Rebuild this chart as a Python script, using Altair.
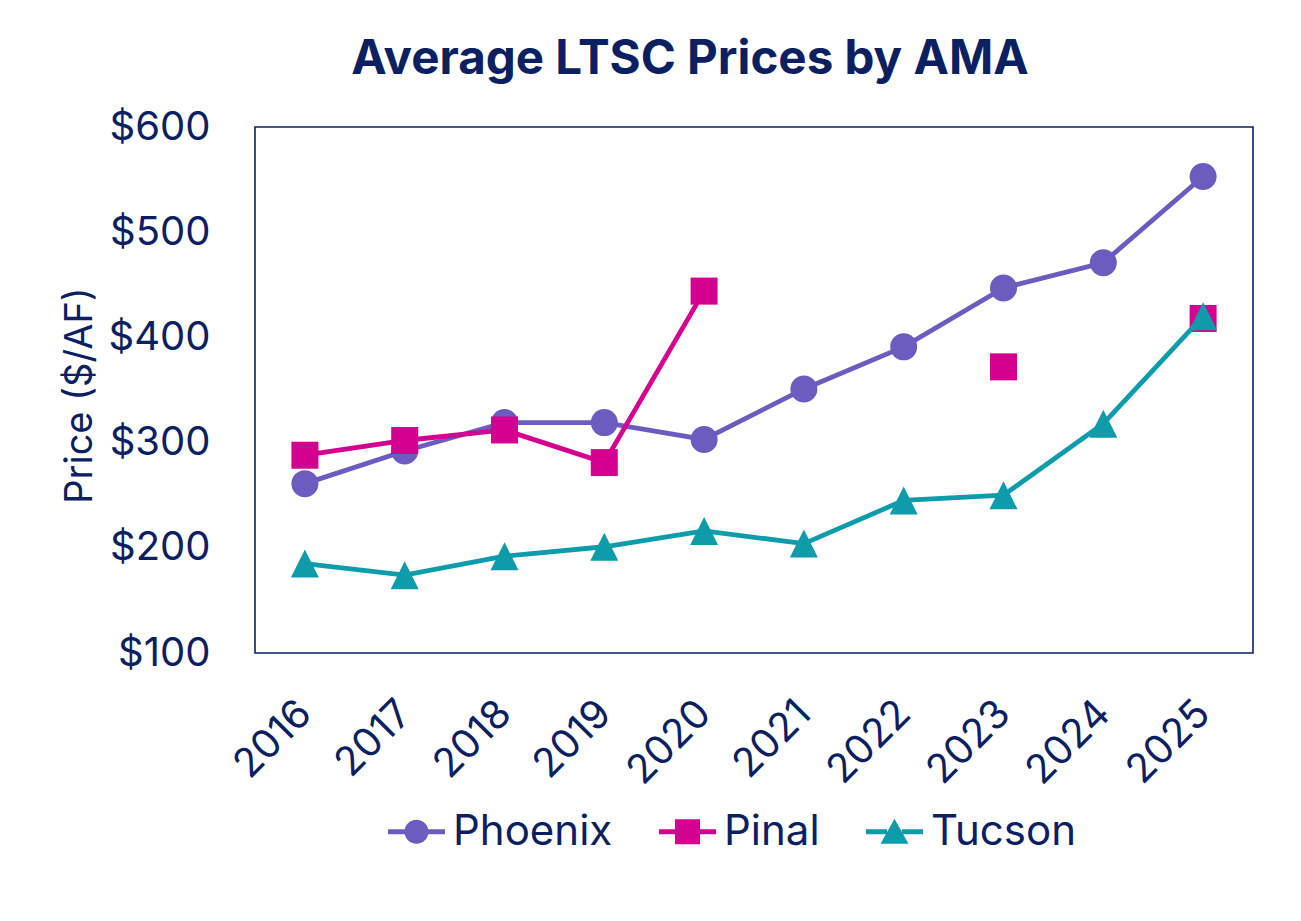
import altair as alt
import pandas as pd

years = ["2016", "2017", "2018", "2019", "2020", "2021", "2022", "2023", "2024", "2025"]
phoenix = [261, 292, 319, 319, 303, 351, 391, 447, 471, 553]
pinal = [288, 302, 312, 281, 444, None, None, 372, None, 418]
tucson = [185, 174, 192, 201, 216, 204, 245, 250, 318, 420]

series_names = ["Phoenix", "Pinal", "Tucson"]
series_values = [phoenix, pinal, tucson]
series_colors = ["#6C5CBF", "#D4008F", "#0E9BAA"]
series_shapes = ["circle", "square", "M0,-1L1,1L-1,1Z"]
series_sizes = [729, 729, 784]

# legend symbols: marker with a line through it
legend_paths = [
    "M-1,-0.088L-0.4,-0.088L-0.4,0.088L-1,0.088Z M0.4,-0.088L1,-0.088L1,0.088L0.4,0.088Z "
    "M-0.42,0A0.42,0.42 0 1,1 0.42,0A0.42,0.42 0 1,1 -0.42,0Z",
    "M-1,-0.088L-0.44,-0.088L-0.44,0.088L-1,0.088Z M0.44,-0.088L1,-0.088L1,0.088L0.44,0.088Z "
    "M-0.44,-0.44L0.44,-0.44L0.44,0.44L-0.44,0.44Z",
    "M-1,-0.088L-0.26,-0.088L-0.26,0.088L-1,0.088Z M0.26,-0.088L1,-0.088L1,0.088L0.26,0.088Z "
    "M0,-0.46L0.49,0.42L-0.49,0.42Z",
]

rows = []
for name, vals in zip(series_names, series_values):
    for yr, v in zip(years, vals):
        rows.append({"year": yr, "series": name, "price": v})
df = pd.DataFrame(rows)

NAVY = "#0A2060"
FONT = "Inter"

x_enc = alt.X(
    "year:O",
    scale=alt.Scale(type="point", padding=0.5),
    axis=alt.Axis(
        title=None, labelAngle=-45, labelAlign="right", labelBaseline="middle",
        labelFontSize=40, labelFont=FONT, labelColor=NAVY,
        labelPadding=54, ticks=False, domain=False,
    ),
)
y_enc = alt.Y(
    "price:Q",
    scale=alt.Scale(domain=[100, 600], nice=False, zero=False),
    axis=alt.Axis(
        title="Price ($/AF)", values=[100, 200, 300, 400, 500, 600], format="$.0f",
        labelFontSize=40, labelFont=FONT, labelColor=NAVY, labelPadding=45,
        titleFontSize=38, titleFont=FONT, titleFontWeight="normal", titleColor=NAVY,
        titlePadding=9, titleY=268, ticks=False, domain=False, grid=False,
    ),
)

layers = []
for name, color, shape, size in zip(series_names, series_colors, series_shapes, series_sizes):
    base = alt.Chart(df).transform_filter(alt.datum.series == name)
    layers.append(
        base.mark_line(color=color, strokeWidth=4.8, invalid="break-paths-show-domains").encode(
            x=x_enc, y=y_enc
        )
    )
    layers.append(
        base.mark_point(color=color, filled=True, opacity=1, shape=shape, size=size, strokeWidth=0).encode(
            x=x_enc, y=y_enc
        )
    )

legend = alt.Legend(
    title=None, orient="none", legendX=133, legendY=676, direction="horizontal",
    symbolSize=3249, symbolStrokeWidth=0, symbolOpacity=1,
    labelFontSize=42, labelFont=FONT, labelColor=NAVY, labelOffset=8,
    columnPadding=46, labelLimit=400, padding=0,
)
legend_layer = alt.Chart(df).mark_point(filled=True, opacity=0).encode(
    x=x_enc,
    y=y_enc,
    color=alt.Color("series:N", scale=alt.Scale(domain=series_names, range=series_colors), legend=legend),
    shape=alt.Shape("series:N", scale=alt.Scale(domain=series_names, range=legend_paths), legend=legend),
)
layers.append(legend_layer)

chart = alt.layer(*layers).properties(
    width=998,
    height=526,
    background="white",
    padding={"left": 247, "top": 119, "right": 40, "bottom": 260},
    autosize=alt.AutoSizeParams(type="none"),
    title=alt.Title(
        "Average LTSC Prices by AMA", fontSize=47.5, font=FONT, fontWeight="bold", color=NAVY,
        anchor="middle", frame="group", dx=-64, offset=24,
    ),
).configure_view(stroke=NAVY, strokeWidth=1.6)

chart.save("out.html", embed_options={"renderer": "svg", "actions": False})
